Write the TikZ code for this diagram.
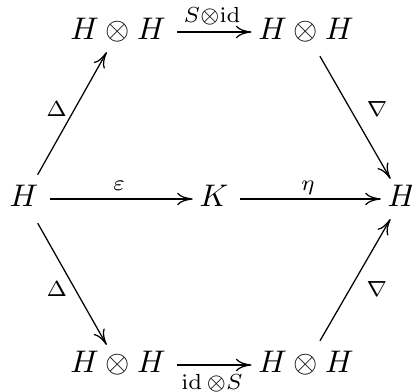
\documentclass[tikz,border=0pt]{standalone}
\usepackage{amsmath}
\usetikzlibrary{arrows.meta}
\begin{document}
\begin{tikzpicture}[x=0.32pt,y=-0.32pt,
  obj/.style={inner sep=0pt, text height=7pt, text depth=2pt},
  map/.style={-{Computer Modern Rightarrow[length=5pt,width=4pt]}, line width=0.4pt, shorten <=3.5pt, shorten >=2pt},
  lab/.style={inner sep=0pt}]
\useasboundingbox (0,0) rectangle (412,392);
\node[obj] (L) at (24,199) {$H$};
\node[obj] (K) at (214,199) {$K$};
\node[obj] (R) at (402,199) {$H$};
\node[obj] (TL) at (118,32) {$H\otimes H$};
\node[obj] (TR) at (306,32) {$H\otimes H$};
\node[obj] (BL) at (118,365) {$H\otimes H$};
\node[obj] (BR) at (306,365) {$H\otimes H$};
\draw[map] (L) -- node[lab, pos=0.545, left=2.2pt] {$\scriptstyle\Delta$} (TL);
\draw[map] (L) -- node[lab, pos=0.548, left=2.2pt] {$\scriptstyle\Delta$} (BL);
\draw[map] (TR) -- node[lab, pos=0.455, right=5pt] {$\scriptstyle\nabla$} (R);
\draw[map] (BR) -- node[lab, pos=0.452, right=5pt] {$\scriptstyle\nabla$} (R);
\draw[map] (TL) -- node[lab, midway, anchor=base, yshift=2.9pt] {$\scriptstyle S\otimes\operatorname{id}$} (TR);
\draw[map] (BL) -- node[lab, midway, anchor=base, yshift=-8pt] {$\scriptstyle \operatorname{id}\otimes S$} (BR);
\draw[map] (L) -- node[lab, midway, anchor=base, yshift=2.56pt] {$\scriptstyle\varepsilon$} (K);
\draw[map] (K) -- node[lab, midway, anchor=base, yshift=2.56pt] {$\scriptstyle\eta$} (R);
\end{tikzpicture}
\end{document}
